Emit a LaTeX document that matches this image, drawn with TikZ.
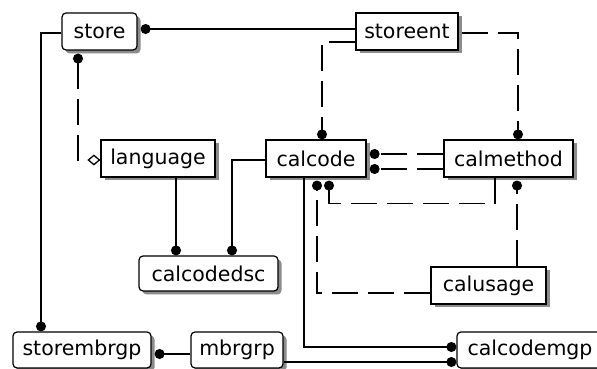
\documentclass[tikz,border=0pt]{standalone}
\usepackage{fontspec}
\setmainfont{DejaVu Sans}
\usetikzlibrary{arrows.meta,shadows}
\begin{document}
\begin{tikzpicture}[x=1pt,y=1pt,
  ent/.style={draw=black,fill=white,line width=1.2pt,inner sep=0pt,
    font=\fontsize{20.5}{24}\selectfont,
    drop shadow={shadow xshift=3.5pt,shadow yshift=-3.5pt,fill=black!45,opacity=1}},
  indep/.style={ent},
  dep/.style={ent,rounded corners=4pt},
  rel/.style={line width=1.3pt,draw=black},
  idrel/.style={rel},
  nonid/.style={rel,dash pattern=on 26pt off 10pt},
  childE/.style={-{Circle[length=10pt,width=10pt]}},
  childS/.style={{Circle[length=10pt,width=10pt]}-},
]
\useasboundingbox (0,0) rectangle (597,369);
% entities
\node[dep,minimum width=75pt,minimum height=37pt] (store) at (99.5,337.5) {store};
\node[indep,minimum width=102pt,minimum height=37pt] (storeent) at (407,337.5) {storeent};
\node[indep,minimum width=114pt,minimum height=37pt] (language) at (158,210.5) {language};
\node[indep,minimum width=100pt,minimum height=37pt] (calcode) at (316,210.5) {calcode};
\node[indep,minimum width=129pt,minimum height=37pt] (calmethod) at (508.5,210.5) {calmethod};
\node[dep,minimum width=139pt,minimum height=35pt] (calcodedsc) at (208.5,95.5) {calcodedsc};
\node[indep,minimum width=115pt,minimum height=37pt] (calusage) at (488.5,83.5) {calusage};
\node[dep,minimum width=138pt,minimum height=36pt] (storembrgp) at (82,19) {storembrgp};
\node[dep,minimum width=92pt,minimum height=36pt] (mbrgrp) at (237,19) {mbrgrp};
\node[dep,minimum width=146pt,minimum height=36pt] (calcodemgp) at (530,19) {calcodemgp};
% relationships
\draw[idrel,childS] ([xshift=3pt,yshift=2.5pt]store.east) -- ([yshift=2.5pt]storeent.west);
\draw[idrel,childE] ([yshift=-1.5pt]store.west) -| ([xshift=-41pt]storembrgp.north);
\draw[nonid,{Circle[length=10pt,width=10pt]}-{Diamond[open,length=13pt,width=11pt,fill=white]}]
  ([xshift=-21.5pt,yshift=-3pt]store.south) |- ([yshift=-1.5pt]language.west);
\draw[nonid,childE] ([yshift=-10.5pt]storeent.west) -| ([xshift=6pt]calcode.north);
\draw[nonid,childE] ([xshift=3pt,yshift=-1.5pt]storeent.east) -| ([xshift=9.5pt]calmethod.north);
\draw[nonid,childE] ([yshift=4.5pt]calmethod.west) -- ([xshift=3pt,yshift=4.5pt]calcode.east);
\draw[nonid,childE] ([yshift=-10.5pt]calmethod.west) -- ([xshift=3pt,yshift=-10.5pt]calcode.east);
\draw[idrel,childE] ([xshift=18pt]language.south) -- ([xshift=-32.5pt]calcodedsc.north);
\draw[idrel,childE] ([yshift=-1.5pt]calcode.west) -| ([xshift=23.5pt]calcodedsc.north);
\draw[idrel,childE] ([xshift=-12pt]calcode.south) |- ([yshift=3pt]calcodemgp.west);
\draw[idrel,childE] ([yshift=-12pt]mbrgrp.east) -- ([yshift=-12pt]calcodemgp.west);
\draw[idrel,childE] ([yshift=-4pt]mbrgrp.west) -- ([xshift=3pt,yshift=-4pt]storembrgp.east);
\draw[nonid,childE] ([yshift=-7.5pt]calusage.west) -| ([xshift=1pt,yshift=-3pt]calcode.south);
\coordinate (cmbend) at ([xshift=-13.5pt,yshift=-26pt]calmethod.south);
\draw[nonid,childE] ([xshift=-13.5pt]calmethod.south) -- (cmbend) -| ([xshift=13pt,yshift=-3pt]calcode.south);
\draw[nonid,childE] ([xshift=28.5pt]calusage.north) -- ([xshift=8.5pt,yshift=-3pt]calmethod.south);
\end{tikzpicture}
\end{document}
